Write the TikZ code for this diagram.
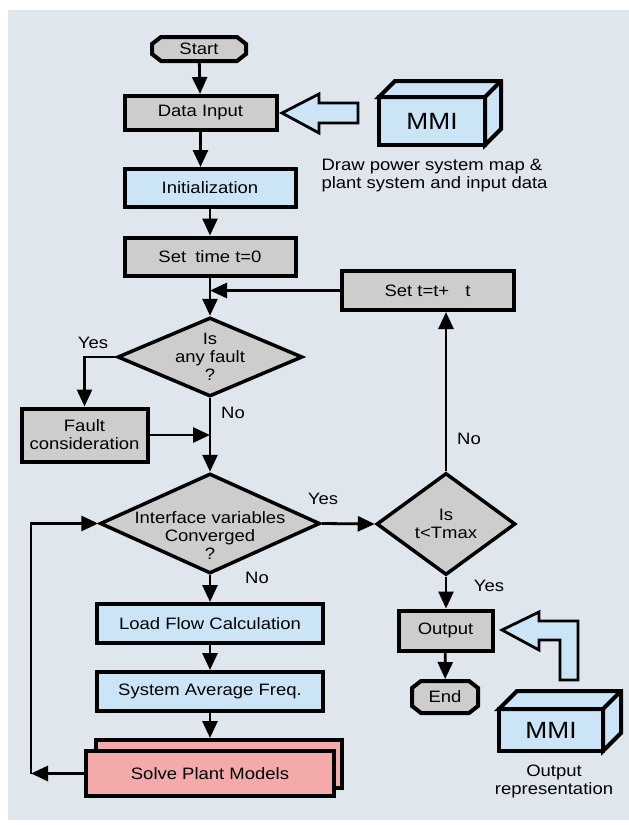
\documentclass[tikz,border=0pt]{standalone}
\usepackage{fontspec}
\setmainfont[FakeStretch=1.12]{Liberation Sans}
\usetikzlibrary{shapes.geometric,arrows.meta,calc}
\definecolor{bgc}{HTML}{DFE6EE}
\definecolor{boxgrey}{HTML}{CDCDCD}
\definecolor{boxblue}{HTML}{CCE5F6}
\definecolor{boxpink}{HTML}{F4AAAA}
\begin{document}
\begin{tikzpicture}[x=1pt,y=-1pt,
  txt/.style={font=\fontsize{16.5}{18}\selectfont, align=center},
  box/.style={draw, line width=4pt, rectangle, txt, inner sep=0pt},
  greybox/.style={box, fill=boxgrey},
  bluebox/.style={box, fill=boxblue},
  term/.style={rectangle, txt, inner sep=0pt, outer sep=2pt},
  termline/.style={draw, line width=4pt, fill=boxgrey, line join=miter},
  dia/.style={draw, line width=3.5pt, diamond, fill=boxgrey, inner sep=0pt},
  arr/.style={line width=2.8pt, -{Triangle[length=17pt,width=15pt]}},
  face/.style={draw, line width=4pt, fill=boxblue, line join=miter},
  mmi/.style={bluebox, outer sep=0pt, font=\fontsize{23.5}{26}\selectfont},
  hollow/.style={draw, line width=2.8pt, fill=boxblue, line join=miter},
  lbl/.style={txt}
]
\useasboundingbox (0,0) rectangle (629,825);
\fill[bgc] (8,10) rectangle (629,820);

% terminal outlines (chamfered)
\draw[termline] (161,37) -- (237,37) -- (246,44) -- (246,54) -- (237,61) -- (161,61) -- (152,54) -- (152,44) -- cycle;
\draw[termline] (421,681) -- (469,681) -- (478,688) -- (478,706) -- (469,713) -- (421,713) -- (412,706) -- (412,688) -- cycle;

% main column
\node[term, minimum width=94pt, minimum height=24pt] (start) at (199,49) {Start};
\node[greybox, minimum width=152pt, minimum height=34pt] (datain) at (200.5,113) {Data Input};
\node[bluebox, minimum width=171pt, minimum height=38pt] (init) at (210,188) {Initialization};
\node[greybox, minimum width=171pt, minimum height=38pt] (settime) at (210,256.5) {Set\hspace{0.55em}time t=0};
\node[greybox, minimum width=172pt, minimum height=39pt] (settt) at (427.5,290.5) {Set t=t+\hspace{16pt}t};
\node[dia, minimum width=185pt, minimum height=79pt, label={[txt]center:{Is\\any fault\\?}}] (fault) at (210,357) {};
\node[greybox, minimum width=126pt, minimum height=53pt] (faultc) at (84.5,435) {Fault\\consideration};
\node[dia, minimum width=220pt, minimum height=100pt, label={[txt,yshift=-12pt]center:{Interface variables\\Converged\\?}}] (conv) at (210,523.5) {};
\node[dia, minimum width=139pt, minimum height=102pt, label={[txt]center:{Is\\t<Tmax}}] (tmax) at (446,524) {};
\node[bluebox, minimum width=226pt, minimum height=39pt] (load) at (210,623.5) {Load Flow Calculation};
\node[bluebox, minimum width=226pt, minimum height=39pt] (sysavg) at (210,691.5) {System Average Freq.};
\node[box, fill=boxpink, minimum width=246pt, minimum height=48pt] (solveb) at (219,764) {};
\node[box, fill=boxpink, minimum width=248pt, minimum height=45pt] (solve) at (210,773.5) {Solve Plant Models};
\node[greybox, minimum width=94pt, minimum height=40pt] (output) at (445.5,630.5) {Output};
\node[term, minimum width=66pt, minimum height=32pt] (end) at (445,697) {End};

% MMI top
\node[mmi, minimum width=106pt, minimum height=48pt] (mmi1) at (432,121) {MMI};
\draw[face] (mmi1.north west) -- ($(mmi1.north west)+(16,-16)$) -- ($(mmi1.north east)+(16,-16)$) -- ($(mmi1.south east)+(16,-16)$) -- (mmi1.south east) -- (mmi1.north east) -- cycle;
\draw[line width=4pt] (mmi1.north east) -- ($(mmi1.north east)+(16,-16)$);
% MMI bottom
\node[mmi, minimum width=104pt, minimum height=42pt] (mmi2) at (551,730) {MMI};
\draw[face] (mmi2.north west) -- ($(mmi2.north west)+(18,-18)$) -- ($(mmi2.north east)+(18,-18)$) -- ($(mmi2.south east)+(18,-18)$) -- (mmi2.south east) -- (mmi2.north east) -- cycle;
\draw[line width=4pt] (mmi2.north east) -- ($(mmi2.north east)+(18,-18)$);

% hollow arrows
\draw[hollow] (282,113) -- (319,94) -- (319,103) -- (358,103) -- (358,123) -- (319,123) -- (319,133) -- cycle;
\draw[hollow] (502,630) -- (539,612) -- (539,621) -- (578,621) -- (578,680) -- (560,680) -- (560,640) -- (539,640) -- (539,650) -- cycle;

% texts
\node[lbl] (yes1) at (93,343) {Yes};
\node[lbl] (no1) at (233,413) {No};
\node[lbl] (yes2) at (323,499) {Yes};
\node[lbl] (no2) at (257,578) {No};
\node[lbl] (no3) at (469,439) {No};
\node[lbl] (yes3) at (489,586) {Yes};
\node[lbl, align=left, anchor=west] (drawtxt) at (318,176) {Draw power system map \&\\plant system and input data};
\node[lbl] (outtxt) at (554,781) {Output\\representation};

% connectors
\draw[arr] (start) -- (datain);
\draw[arr] (datain.south) -- (datain.south |- init.north);
\draw[arr] (init) -- (settime);
\draw[arr] (settime) -- (fault);
\coordinate (j1) at (settime.south |- settt.west);
\draw[arr] (settt.west) -- (j1);
\draw[arr] (fault.west) -| (faultc.north);
\draw[arr] (fault.south) -- (conv.north);
\coordinate (j2) at (fault.south |- faultc.east);
\draw[arr] (faultc.east) -- (j2);
\draw[arr] (conv.east) -- (tmax.west);
\draw[arr] (conv.south) -- (load.north);
\draw[arr] (load) -- (sysavg);
\draw[arr] (sysavg.south) -- (sysavg.south |- solveb.north);
\path (31,0) coordinate (x31);
\coordinate (loopb) at (solve.west -| x31);
\coordinate (loopt) at (conv.west -| x31);
\draw[arr] (solve.west) -- (loopb);
\draw[arr] (loopb) -- (loopt) -- (conv.west);
\draw[arr] (tmax.north) -- (tmax.north |- settt.south);
\draw[arr] (tmax.south) -- (tmax.south |- output.north);
\draw[arr] (output) -- (end);
\end{tikzpicture}
\end{document}
